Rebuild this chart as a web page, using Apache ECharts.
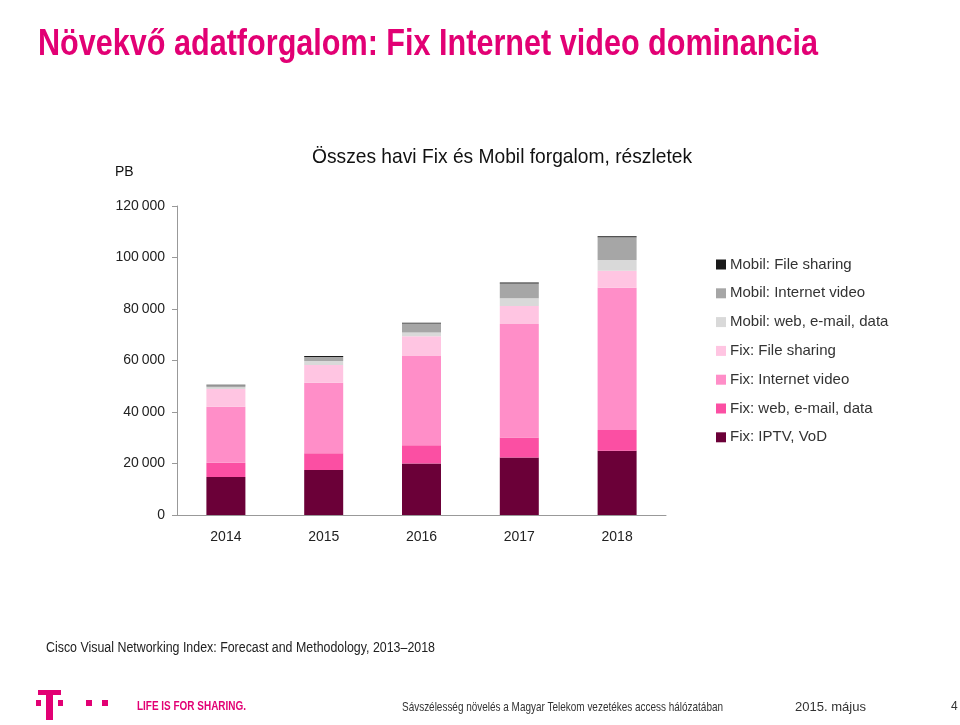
<!DOCTYPE html>
<html><head><meta charset="utf-8">
<script src="https://cdn.jsdelivr.net/npm/echarts@6/dist/echarts.min.js"></script>
<style>html,body{margin:0;padding:0;background:#fff}#c{width:960px;height:725px}</style>
</head><body><div id="c"></div>
<script>
const categories = ['2014', '2015', '2016', '2017', '2018'];
const fixIptv  = [14800, 17500, 20000, 22300, 25000];
const fixWeb   = [5500, 6500, 7100, 7800, 8000];
const fixVideo = [21700, 27400, 34800, 44100, 55300];
const fixFile  = [6900, 6900, 7500, 7000, 6600];
const mobWeb   = [700, 1500, 1500, 3000, 4100];
const mobVideo = [800, 1600, 3500, 5700, 8900];
const mobFile  = [200, 300, 300, 400, 400];
const yTicks = [0, 20000, 40000, 60000, 80000, 100000, 120000];

const seriesDefs = [
  ['Fix: IPTV, VoD', fixIptv, '#6b0038'],
  ['Fix: web, e-mail, data', fixWeb, '#fb4fa3'],
  ['Fix: Internet video', fixVideo, '#ff8ec8'],
  ['Fix: File sharing', fixFile, '#ffc5e2'],
  ['Mobil: web, e-mail, data', mobWeb, '#d9d9d9'],
  ['Mobil: Internet video', mobVideo, '#a6a6a6'],
  ['Mobil: File sharing', mobFile, '#1a1a1a']
];

const chart = echarts.init(document.getElementById('c'), null, {renderer: 'canvas'});
const fmt = v => String(v).replace(/\B(?=(\d{3})+(?!\d))/g, '\u2009');
const mag = '#e20074';

const mctx = document.createElement('canvas').getContext('2d');
function fitText(text, font, x, y, target, fill) {
  mctx.font = font;
  const w = mctx.measureText(text).width;
  return {type: 'text', x: x, y: y, scaleX: target / w, originX: 0,
    style: {text: text, fill: fill, font: font, textVerticalAlign: 'middle'}};
}

chart.setOption({
  animation: false,
  backgroundColor: '#fff',
  textStyle: {fontFamily: 'Liberation Sans'},
  grid: {left: 177, right: 294, top: 206, bottom: 210, containLabel: false},
  xAxis: {
    type: 'category', data: categories,
    axisLine: {lineStyle: {color: '#999'}},
    axisTick: {length: 5, lineStyle: {color: '#999'}},
    axisLabel: {color: '#222', fontSize: 14, margin: 15}
  },
  yAxis: {
    type: 'value', min: yTicks[0], max: yTicks[yTicks.length - 1], interval: 20000,
    axisLine: {show: true, lineStyle: {color: '#999'}},
    axisTick: {show: true, length: 5, lineStyle: {color: '#999'}},
    splitLine: {show: false},
    axisLabel: {color: '#222', fontSize: 14, margin: 12, formatter: fmt}
  },
  legend: {
    orient: 'vertical', left: 716, top: 257, padding: 0,
    itemWidth: 10, itemHeight: 10, itemGap: 13.8,
    icon: 'rect',
    textStyle: {fontSize: 15, color: '#333', padding: [0, 0, 0, -1]},
    data: seriesDefs.map(d => d[0]).reverse()
  },
  series: seriesDefs.map(d => ({
    name: d[0], type: 'bar', stack: 'total', data: d[1], barWidth: 39,
    itemStyle: {color: d[2]}
  })),
  graphic: [
    fitText('Növekvő adatforgalom: Fix Internet video dominancia', 'bold 36px "Liberation Sans"', 38, 45, 780, mag),
    fitText('Összes havi Fix és Mobil forgalom, részletek', '21px "Liberation Sans"', 312, 157, 380, '#111'),
    {type: 'text', x: 115, y: 172, style: {text: 'PB', fill: '#111', font: '14px "Liberation Sans"', textVerticalAlign: 'middle'}},
    fitText('Cisco Visual Networking Index: Forecast and Methodology, 2013\u20132018', '14px "Liberation Sans"', 46, 648, 389, '#222'),
    // logo
    {type: 'rect', shape: {x: 38, y: 690, width: 23, height: 5}, style: {fill: mag}},
    {type: 'rect', shape: {x: 46, y: 690, width: 7, height: 30}, style: {fill: mag}},
    {type: 'rect', shape: {x: 36, y: 700, width: 5, height: 6}, style: {fill: mag}},
    {type: 'rect', shape: {x: 58, y: 700, width: 5, height: 6}, style: {fill: mag}},
    {type: 'rect', shape: {x: 86, y: 700, width: 6, height: 6}, style: {fill: mag}},
    {type: 'rect', shape: {x: 102, y: 700, width: 6, height: 6}, style: {fill: mag}},
    fitText('LIFE IS FOR SHARING.', 'bold 12px "Liberation Sans"', 137, 707, 109, mag),
    fitText('Sávszélesség növelés a Magyar Telekom vezetékes access hálózatában', '13px "Liberation Sans"', 402, 707, 321, '#333'),
    fitText('2015. május', '13px "Liberation Sans"', 795, 707, 71, '#333'),
    {type: 'text', x: 951, y: 707, style: {text: '4', fill: '#333', font: '12px "Liberation Sans"', textVerticalAlign: 'middle'}}
  ]
});
</script></body></html>
